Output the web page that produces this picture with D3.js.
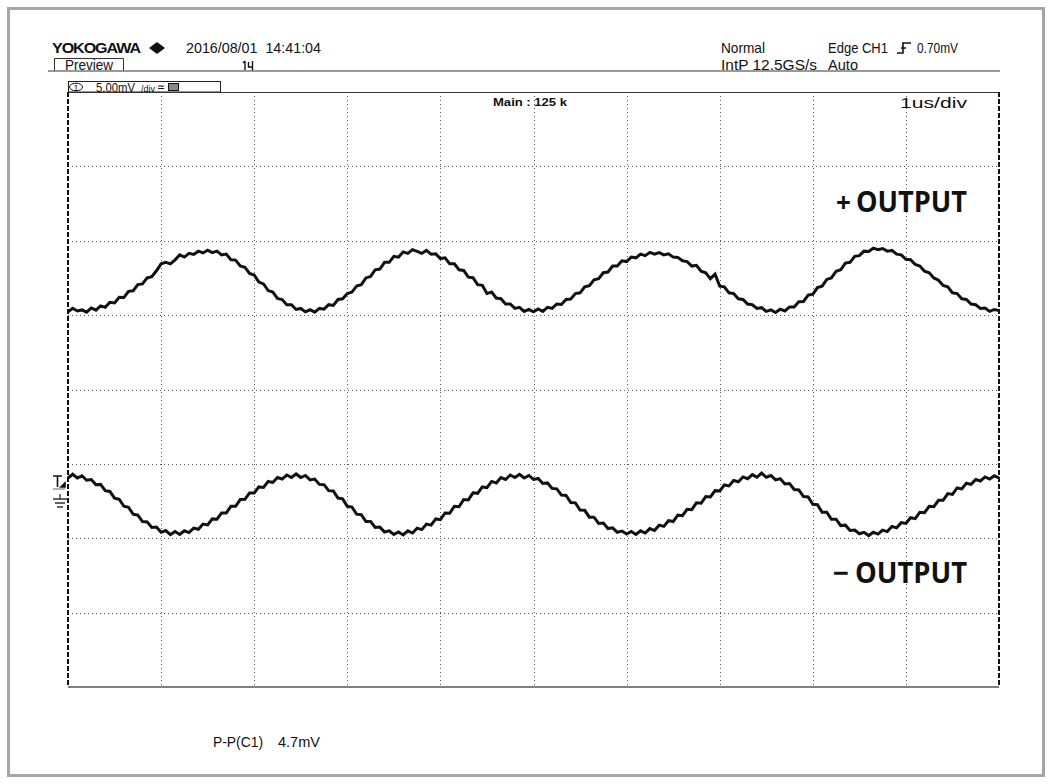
<!DOCTYPE html>
<html>
  <head>
    <meta charset="utf-8">
    <title>Output ripple</title>
    <script src="https://d3js.org/d3.v7.min.js"></script>
    <style>
      body { margin: 0; background: #fff; }
      svg { display: block; }
      .mono { font-family: "Liberation Sans Narrow", "Liberation Sans", "DejaVu Sans Condensed", sans-serif; fill: #111; white-space: pre; }
      .label { font-family: "Open Sans", "Noto Sans", sans-serif; font-weight: 700; fill: #111; }
    </style>
  </head>
  <body>
    <div id="chart"></div>
    <script>
      // scope settings
      var timePerDiv = 1;      // us/div
      var voltsPerDiv = 5;     // mV/div
      var xDivs = [1, 2, 3, 4, 5, 6, 7, 8, 9];
      var yDivs = [-15, -10, -5, 0, 5, 10, 15];
      var dt = 0.05;           // us between samples

      // +OUTPUT trace, mV, one value every 0.05 us
      var plusOut = [
        5.22, 5.46, 5.28, 5.35, 5.20, 5.48, 5.33, 5.62, 5.52, 5.86,
        5.82, 6.20, 6.18, 6.60, 6.64, 7.05, 7.10, 7.50, 7.58, 7.98,
        8.45, 8.55, 8.45, 8.72, 9.05, 8.90, 9.15, 9.08, 9.30, 9.18,
        9.36, 9.20, 9.30, 9.05, 9.10, 8.72, 8.70, 8.30, 8.22, 7.80,
        7.70, 7.22, 7.10, 6.65, 6.55, 6.12, 6.05, 5.70, 5.70, 5.38,
        5.45, 5.22, 5.36, 5.20, 5.45, 5.40, 5.70, 5.65, 6.05, 6.10,
        6.45, 6.55, 6.95, 7.05, 7.50, 7.60, 8.05, 8.10, 8.55, 8.55,
        8.95, 8.90, 9.25, 9.15, 9.40, 9.28, 9.15, 9.35, 9.10, 9.12,
        8.80, 8.85, 8.45, 8.45, 8.05, 8.00, 7.55, 7.52, 7.05, 7.00,
        6.45, 6.55, 6.15, 6.10, 5.75, 5.75, 5.45, 5.52, 5.25, 5.38,
        5.22, 5.42, 5.25, 5.52, 5.45, 5.75, 5.72, 6.05, 6.08, 6.45,
        6.50, 6.90, 6.98, 7.38, 7.45, 7.85, 7.90, 8.30, 8.30, 8.65,
        8.60, 8.90, 8.85, 9.10, 9.00, 9.22, 9.10, 9.20, 9.05, 9.12,
        8.90, 8.88, 8.65, 8.60, 8.30, 8.35, 7.95, 7.85, 7.45, 7.75,
        6.95, 6.90, 6.50, 6.45, 6.10, 6.05, 5.75, 5.70, 5.45, 5.50,
        5.25, 5.35, 5.18, 5.40, 5.28, 5.55, 5.55, 5.90, 5.92, 6.35,
        6.40, 6.85, 6.95, 7.40, 7.50, 7.95, 8.05, 8.50, 8.55, 8.95,
        9.00, 9.30, 9.28, 9.50, 9.40, 9.48, 9.30, 9.35, 9.10, 9.05,
        8.75, 8.72, 8.40, 8.30, 7.95, 7.85, 7.50, 7.35, 7.00, 6.90,
        6.50, 6.45, 6.10, 6.05, 5.75, 5.70, 5.45, 5.48, 5.25, 5.38,
        5.30
      ];

      // -OUTPUT trace, mV, one value every 0.05 us
      var minusOut = [
        -5.95, -5.70, -5.95, -5.80, -6.10, -6.05, -6.40, -6.38, -6.80, -6.85,
        -7.30, -7.38, -7.85, -7.92, -8.38, -8.45, -8.88, -8.90, -9.28, -9.25,
        -9.60, -9.48, -9.75, -9.55, -9.75, -9.50, -9.62, -9.32, -9.40, -9.05,
        -9.10, -8.70, -8.72, -8.30, -8.30, -7.85, -7.85, -7.40, -7.38, -6.95,
        -6.95, -6.55, -6.58, -6.18, -6.25, -5.92, -6.02, -5.75, -5.92, -5.68,
        -5.92, -5.78, -6.08, -6.02, -6.38, -6.40, -6.80, -6.82, -7.30, -7.35,
        -7.85, -7.90, -8.38, -8.42, -8.88, -8.88, -9.28, -9.25, -9.58, -9.50,
        -9.75, -9.58, -9.78, -9.50, -9.65, -9.32, -9.42, -9.05, -9.12, -8.70,
        -8.75, -8.30, -8.32, -7.85, -7.88, -7.40, -7.42, -6.95, -6.98, -6.55,
        -6.60, -6.18, -6.28, -5.92, -6.05, -5.75, -5.92, -5.70, -5.95, -5.78,
        -6.05, -5.98, -6.32, -6.28, -6.65, -6.68, -7.10, -7.12, -7.60, -7.62,
        -8.10, -8.12, -8.58, -8.58, -9.00, -8.98, -9.35, -9.30, -9.60, -9.52,
        -9.72, -9.55, -9.75, -9.50, -9.65, -9.35, -9.48, -9.12, -9.20, -8.82,
        -8.88, -8.45, -8.48, -8.05, -8.08, -7.62, -7.65, -7.20, -7.22, -6.80,
        -6.82, -6.42, -6.48, -6.12, -6.20, -5.88, -6.00, -5.72, -5.90, -5.62,
        -5.90, -5.78, -6.08, -6.00, -6.35, -6.32, -6.72, -6.75, -7.20, -7.22,
        -7.72, -7.75, -8.25, -8.25, -8.72, -8.72, -9.15, -9.12, -9.48, -9.45,
        -9.70, -9.60, -9.82, -9.60, -9.72, -9.45, -9.55, -9.20, -9.30, -8.95,
        -9.00, -8.62, -8.68, -8.25, -8.28, -7.85, -7.88, -7.45, -7.45, -7.00,
        -7.05, -6.62, -6.68, -6.30, -6.38, -6.05, -6.15, -5.88, -6.02, -5.80,
        -5.95
      ];

      var width = 1053, height = 784;
      var plot = { left: 68, right: 999, top: 92, bottom: 687 };

      var svg = d3.select("#chart").append("svg")
        .attr("width", width)
        .attr("height", height);

      // outer grey frame
      svg.append("rect")
        .attr("x", 8.5).attr("y", 8.5)
        .attr("width", 1035).attr("height", 767)
        .attr("fill", "none")
        .attr("stroke", "#a6a6a6")
        .attr("stroke-width", 3);

      var x = d3.scaleLinear().domain([0, 10 * timePerDiv]).range([plot.left, plot.right]);
      var y = d3.scaleLinear().domain([-4 * voltsPerDiv, 4 * voltsPerDiv]).range([plot.bottom, plot.top]);

      // small helper for the scope's narrow screen font
      function scopeText(str, px, py, size, len, bold) {
        return svg.append("text").attr("class", "mono")
          .attr("x", px).attr("y", py)
          .attr("font-size", size)
          .attr("font-weight", bold ? 700 : 400)
          .attr("textLength", len).attr("lengthAdjust", "spacingAndGlyphs")
          .text(str);
      }

      // header
      scopeText("YOKOGAWA", 52, 53, 15, 88, true).attr("letter-spacing", -1);
      svg.append("path")
        .attr("d", "M157,42 L165,48 L157,54 L149,48 Z")
        .attr("fill", "#111");
      scopeText("2016/08/01  14:41:04", 186, 53, 15, 135);
      // preview tab
      svg.append("path")
        .attr("d", "M54.5,71 V58.5 H123.5 V71")
        .attr("fill", "none").attr("stroke", "#333").attr("stroke-width", 1);
      scopeText("Preview", 65, 70, 14.5, 48);
      // trigger position mark
      svg.append("path")
        .attr("d", "M245,61 V70 M243,63 L245,61 M248.5,62 V67 H252.5 M252.5,61 V71")
        .attr("fill", "none").attr("stroke", "#111").attr("stroke-width", 1.4);
      // header rule
      svg.append("line")
        .attr("x1", 48).attr("x2", 1000).attr("y1", 71).attr("y2", 71)
        .attr("stroke", "#777").attr("stroke-width", 1.5);

      scopeText("Normal", 721, 53, 14.5, 44);
      scopeText("IntP 12.5GS/s", 721, 70, 14.5, 96);
      scopeText("Edge CH1", 828, 53, 14.5, 60);
      svg.append("path")
        .attr("d", "M897,53 H903 V43 H911 M901,48 L906,48")
        .attr("fill", "none").attr("stroke", "#111").attr("stroke-width", 1.6);
      scopeText("0.70mV", 917, 53, 14.5, 41);
      scopeText("Auto", 828, 70, 14.5, 30);

      // channel box
      svg.append("rect")
        .attr("x", 68.5).attr("y", 81.5)
        .attr("width", 152).attr("height", 10.5)
        .attr("fill", "none").attr("stroke", "#222").attr("stroke-width", 1);
      svg.append("ellipse")
        .attr("cx", 76).attr("cy", 87).attr("rx", 6.5).attr("ry", 3.8)
        .attr("fill", "none").attr("stroke", "#111").attr("stroke-width", 1);
      svg.append("text").attr("class", "mono")
        .attr("x", 76).attr("y", 90.5).attr("font-size", 9)
        .attr("text-anchor", "middle")
        .text("1");
      scopeText("5.00mV", 96, 91.5, 13.5, 39);
      scopeText("/div", 141, 91.5, 8.5, 14);
      scopeText("≃", 157, 91, 12, 8);
      svg.append("rect")
        .attr("x", 168.5).attr("y", 83.5).attr("width", 10).attr("height", 7)
        .attr("fill", "#888").attr("stroke", "#111").attr("stroke-width", 1);

      // grid
      var grid = svg.append("g").attr("stroke", "#555").attr("stroke-width", 1)
        .attr("stroke-dasharray", "1,3");
      grid.selectAll(".vgrid")
        .data(xDivs)
        .enter().append("line")
          .attr("class", "vgrid")
          .attr("x1", function(d) { return Math.round(x(d)) + 0.5; })
          .attr("x2", function(d) { return Math.round(x(d)) + 0.5; })
          .attr("y1", plot.top).attr("y2", plot.bottom);
      grid.selectAll(".hgrid")
        .data(yDivs)
        .enter().append("line")
          .attr("class", "hgrid")
          .attr("y1", function(d) { return Math.round(y(d)) + 0.5; })
          .attr("y2", function(d) { return Math.round(y(d)) + 0.5; })
          .attr("x1", plot.left).attr("x2", plot.right);

      // frame: solid top and bottom, dashed sides
      svg.append("line")
        .attr("x1", plot.left).attr("x2", plot.right)
        .attr("y1", plot.top + 0.5).attr("y2", plot.top + 0.5)
        .attr("stroke", "#333").attr("stroke-width", 1);
      svg.append("line")
        .attr("x1", plot.left).attr("x2", plot.right)
        .attr("y1", plot.bottom).attr("y2", plot.bottom)
        .attr("stroke", "#555").attr("stroke-width", 1.5);
      svg.selectAll(".side")
        .data([plot.left, plot.right])
        .enter().append("line")
          .attr("class", "side")
          .attr("x1", function(d) { return d; }).attr("x2", function(d) { return d; })
          .attr("y1", plot.top).attr("y2", plot.bottom)
          .attr("stroke", "#111").attr("stroke-width", 2)
          .attr("stroke-dasharray", "5,2");

      scopeText("Main : 125 k", 493, 106, 11, 74, true);
      scopeText("1us/div", 900, 108, 15.5, 67);

      // ground / level marker
      svg.append("path")
        .attr("d", "M53,476 H62 M57.5,476 V487 M61,487 L65,487 L65,483 Z")
        .attr("fill", "#111").attr("stroke", "#111").attr("stroke-width", 1.6);
      svg.append("line")
        .attr("x1", 53).attr("x2", 65).attr("y1", 489).attr("y2", 489)
        .attr("stroke", "#999").attr("stroke-width", 1.5);
      svg.append("path")
        .attr("d", "M60,494 V499 M53,499 H67 M55,503 H65 M57,507 H63")
        .attr("fill", "none").attr("stroke", "#333").attr("stroke-width", 1.3);

      // traces
      var line = d3.line()
        .x(function(d, i) { return x(i * dt); })
        .y(function(d) { return y(d); });
      svg.selectAll(".trace")
        .data([plusOut, minusOut])
        .enter().append("path")
          .attr("class", "trace")
          .attr("d", line)
          .attr("fill", "none")
          .attr("stroke", "#111")
          .attr("stroke-width", 3)
          .attr("stroke-linejoin", "miter");

      // trace labels
      svg.append("text").attr("class", "label")
        .attr("x", 836).attr("y", 212).attr("font-size", 26).attr("font-weight", 600)
        .text("+");
      svg.append("text").attr("class", "label")
        .attr("x", 856).attr("y", 212).attr("font-size", 28)
        .attr("textLength", 111).attr("lengthAdjust", "spacingAndGlyphs")
        .text("OUTPUT");
      svg.append("text").attr("class", "label")
        .attr("x", 833).attr("y", 583).attr("font-size", 28).attr("font-weight", 700)
        .text("−");
      svg.append("text").attr("class", "label")
        .attr("x", 855).attr("y", 583).attr("font-size", 28)
        .attr("textLength", 112).attr("lengthAdjust", "spacingAndGlyphs")
        .text("OUTPUT");

      // measurement
      scopeText("P-P(C1)", 213, 747, 14.5, 50);
      scopeText("4.7mV", 278, 747, 14.5, 42);
    </script>
  </body>
</html>
